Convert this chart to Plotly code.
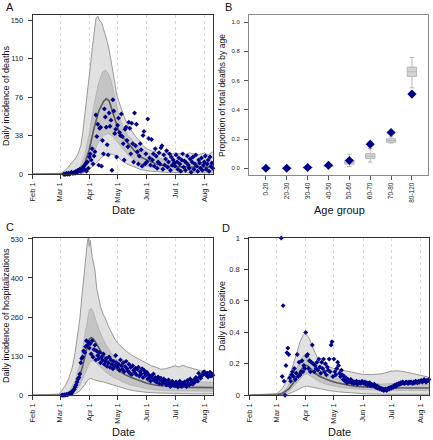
import plotly.graph_objects as go
import pandas as pd

# ---------------- data ----------------
BASE = pd.Timestamp("2020-02-01")
month_ticks = ["2020-02-01", "2020-03-01", "2020-04-01", "2020-05-01", "2020-06-01", "2020-07-01", "2020-08-01"]
month_labels = ["Feb 1", "Mar 1", "Apr 1", "May 1", "Jun 1", "Jul 1", "Aug 1"]

# Panel A: daily deaths (observed, daily from Mar 5)
deaths_start = "2020-03-05"
deaths_obs = [0, 0, 0, 1, 0, 1, 0, 1, 2, 1,
              1, 2, 1, 3, 2, 4, 3, 5, 3, 6,
              4, 8, 5, 10, 3, 12, 6,
              17, 20, 14, 25, 10, 18, 22, 58, 37, 49,
              9, 45, 46, 8, 33, 20, 64, 56, 46, 29,
              19, 60, 47, 53, 4, 73, 62, 40, 44, 17,
              48, 55, 41, 38, 59, 37, 30, 14, 44, 46,
              33, 27, 51, 45, 20, 50, 30, 12, 60, 28,
              49, 22, 10, 18, 30, 24, 8, 38, 42, 10, 20,
              12, 54, 35, 16, 9, 34, 14, 20, 8, 25,
              18, 6, 12, 21, 10, 26, 28, 5, 19, 9,
              15, 23, 7, 12, 20, 4, 17, 9, 14, 11,
              8, 19, 12, 5, 16, 10, 3, 14, 20, 7,
              13, 4, 11, 18, 9, 6, 15, 2, 12, 17,
              5, 10, 19, 8, 3, 14, 11, 6, 16, 4, 9,
              12, 18, 5, 10, 14, 3, 17, 8, 11, 6]
# model bands (day offset since Feb 1, value)
deaths_hi95_days = [0, 25, 29, 33, 37, 41, 45, 48, 51, 53, 55, 57, 59, 61, 63, 65, 67, 69, 71, 73, 75, 77, 79, 81, 83, 85, 87, 89, 91, 94, 97, 101, 105, 109, 113, 117, 121, 126, 131, 136, 141, 146, 151, 156, 161, 166, 171, 176, 182, 186, 191]
deaths_hi95 = [0, 0, 0.5, 3, 6, 11, 15, 20, 28, 40, 55, 72, 88, 105, 122, 140, 152, 155, 150, 149, 143, 138, 130, 122, 112, 100, 90, 78, 72, 64, 56, 48, 42, 37, 33, 28, 25, 23, 22, 20, 21, 19, 21, 20, 19, 21, 20, 19, 21, 19, 22]
deaths_lo95_days = [0, 50, 55, 60, 65, 70, 75, 80, 85, 90, 95, 100, 107, 115, 125, 140, 160, 191]
deaths_lo95 = [0, 0, 2, 5, 9, 14, 18, 20, 19.5, 17, 13, 10, 7.5, 4.5, 3, 2, 1.5, 1.5]
deaths_hi50_days = [0, 40, 45, 50, 55, 60, 65, 70, 74, 77, 80, 83, 86, 89, 92, 96, 101, 107, 114, 121, 131, 141, 151, 171, 191]
deaths_hi50 = [0, 1, 3, 7, 18, 40, 68, 90, 100, 102, 99, 92, 80, 66, 55, 46, 38, 32, 26, 22, 17, 14, 13, 12, 12]
deaths_lo50_days = [0, 45, 50, 55, 60, 65, 70, 75, 80, 85, 90, 96, 101, 107, 114, 121, 131, 141, 151, 191]
deaths_lo50 = [0, 0.5, 2, 5, 12, 22, 32, 38, 40, 37, 31, 24, 19, 15, 11, 8, 6, 5, 4, 3.5]
deaths_med_days = [0, 40, 45, 50, 55, 60, 65, 70, 75, 78, 81, 84, 87, 91, 96, 101, 107, 114, 121, 131, 141, 151, 166, 182, 191]
deaths_med = [0, 0.5, 1.5, 4, 10, 24, 45, 62, 71, 74, 72, 63, 53, 43, 36, 30, 24, 17, 14, 10, 8, 7.5, 7, 7, 7]

# Panel B: proportion of deaths by age
age_groups = ["0-20", "20-30", "30-40", "40-50", "50-60", "60-70", "70-80", "80-120"]
age_obs = [0.0, 0.0, 0.005, 0.02, 0.053, 0.165, 0.245, 0.507]
age_q1 = [0.0, 0.0, 0.003, 0.012, 0.028, 0.066, 0.178, 0.628]
age_med = [0.0, 0.0, 0.005, 0.016, 0.04, 0.082, 0.19, 0.66]
age_q3 = [0.001, 0.001, 0.008, 0.021, 0.055, 0.1, 0.202, 0.692]
age_lo = [0.0, 0.0, 0.001, 0.008, 0.012, 0.042, 0.172, 0.55]
age_hi = [0.002, 0.002, 0.012, 0.028, 0.096, 0.135, 0.214, 0.757]

# Panel C: daily hospitalizations (observed, daily from Mar 3)
hosp_start = "2020-03-03"
hosp_obs = [0, 1, 0, 2, 1, 3, 2, 4,
            5, 8, 6, 12, 15, 20, 28, 35, 45, 55,
            60, 72, 110, 125, 130, 150, 145, 165, 185, 170, 180,
            160, 175, 140, 185, 130, 155, 170, 120, 150, 135,
            125, 145, 110, 130, 120, 140, 105, 115, 125, 98,
            110, 130, 95, 120, 105, 90, 115, 100, 135, 110,
            95, 105, 85, 120, 100, 88, 110, 80, 98, 115,
            90, 82, 105, 75, 95, 70, 100, 85, 78, 92,
            70, 88, 95, 65, 80, 72, 90, 60, 85, 75, 68,
            78, 55, 70, 62, 48, 65, 58, 72, 50, 60,
            45, 55, 62, 40, 52, 58, 38, 48, 55, 42,
            50, 35, 45, 52, 38, 30, 42, 48, 35, 40,
            32, 45, 38, 28, 40, 48, 35, 30, 42, 38,
            45, 36, 30, 50, 42, 35, 55, 40, 48, 38,
            52, 45, 60, 55, 48, 75, 62, 58, 65, 70, 78,
            80, 72, 68, 75, 62, 70, 78, 65, 72, 68]
hosp_hi95_days = [0, 27, 30, 34, 38, 42, 45, 48, 50, 52, 54, 56, 57, 58, 59, 60, 61, 62, 63, 64, 65, 66, 67, 68, 70, 72, 75, 77, 80, 84, 88, 92, 96, 101, 106, 111, 116, 121, 126, 131, 136, 141, 146, 151, 155, 159, 163, 168, 173, 178, 182, 187, 191]
hosp_hi95 = [0, 2, 12, 30, 55, 95, 145, 210, 260, 330, 390, 450, 500, 520, 534, 505, 525, 490, 470, 455, 440, 425, 390, 360, 330, 300, 272, 262, 235, 208, 185, 170, 158, 145, 134, 125, 117, 108, 100, 95, 88, 90, 94, 100, 96, 102, 97, 92, 88, 84, 80, 78, 76]
hosp_lo95_days = [0, 40, 45, 50, 55, 58, 61, 65, 70, 75, 80, 85, 90, 96, 101, 108, 115, 121, 131, 141, 151, 171, 191]
hosp_lo95 = [0, 1, 5, 15, 35, 50, 57, 52, 48, 45, 40, 35, 30, 24, 20, 15, 12, 10, 8, 7, 6, 5, 5]
hosp_hi50_days = [0, 35, 40, 45, 50, 53, 56, 58, 60, 62, 64, 67, 70, 74, 78, 83, 88, 93, 98, 104, 110, 116, 121, 131, 141, 151, 166, 182, 191]
hosp_hi50 = [0, 6, 20, 50, 105, 160, 220, 265, 290, 295, 285, 255, 225, 195, 170, 145, 125, 110, 98, 86, 76, 68, 62, 55, 50, 48, 46, 45, 44]
hosp_lo50_days = [0, 40, 45, 50, 55, 58, 61, 64, 67, 70, 75, 80, 86, 92, 98, 104, 110, 121, 131, 141, 151, 191]
hosp_lo50 = [0, 5, 15, 35, 70, 95, 115, 118, 112, 100, 85, 72, 60, 50, 42, 35, 30, 22, 18, 16, 15, 14]
hosp_med_days = [0, 30, 35, 40, 45, 50, 53, 56, 58, 60, 62, 64, 67, 70, 74, 78, 83, 88, 93, 98, 104, 110, 116, 121, 131, 141, 151, 166, 182, 191]
hosp_med = [0, 1, 4, 12, 30, 65, 100, 140, 170, 190, 196, 192, 178, 160, 140, 122, 104, 90, 79, 70, 61, 53, 46, 41, 34, 30, 28, 27, 27, 26]

# Panel D: daily test positive fraction (observed, daily from Mar 6)
tests_start = "2020-03-06"
tests_obs = [1.0, 0.12, 0.57, 0.09, 0.0,
             0.19, 0.27, 0.30, 0.26, 0.11, 0.09, 0.13, 0.15, 0.12, 0.17,
             0.10, 0.14, 0.26, 0.12, 0.21, 0.13, 0.15, 0.22, 0.15, 0.19, 0.17,
             0.40, 0.25, 0.26, 0.17, 0.22, 0.15, 0.21, 0.32, 0.20, 0.15,
             0.19, 0.17, 0.21, 0.16, 0.23, 0.18, 0.14, 0.21, 0.17, 0.23,
             0.15, 0.20, 0.13, 0.18, 0.16, 0.23, 0.15, 0.32, 0.34, 0.12,
             0.23, 0.15, 0.13, 0.17, 0.21, 0.19, 0.14, 0.12, 0.16, 0.13,
             0.10, 0.12, 0.09, 0.11, 0.08, 0.10, 0.09, 0.085, 0.10, 0.08,
             0.09, 0.075, 0.085, 0.08, 0.09, 0.07, 0.08, 0.085, 0.075, 0.08, 0.09,
             0.08, 0.075, 0.085, 0.07, 0.08, 0.065, 0.075, 0.08, 0.06, 0.07,
             0.065, 0.06, 0.07, 0.055, 0.05, 0.06, 0.045, 0.05, 0.04, 0.045,
             0.035, 0.04, 0.03, 0.035, 0.04, 0.03, 0.035, 0.045, 0.04, 0.05,
             0.045, 0.055, 0.05, 0.06, 0.065, 0.055, 0.07, 0.065, 0.075, 0.07,
             0.08, 0.075, 0.085, 0.08, 0.075, 0.08, 0.085, 0.08, 0.075, 0.085,
             0.08, 0.085, 0.08, 0.075, 0.085, 0.08, 0.09, 0.085, 0.08, 0.09, 0.085,
             0.09, 0.095, 0.085, 0.09, 0.10, 0.09, 0.085, 0.095, 0.09, 0.10]
tests_hi95_days = [0, 26, 30, 34, 38, 42, 46, 50, 54, 57, 59, 61, 64, 67, 70, 74, 78, 83, 90, 98, 106, 114, 121, 131, 141, 151, 158, 165, 172, 180, 186, 191]
tests_hi95 = [0, 0.005, 0.015, 0.035, 0.07, 0.12, 0.18, 0.26, 0.34, 0.38, 0.392, 0.385, 0.36, 0.31, 0.27, 0.22, 0.2, 0.185, 0.17, 0.16, 0.15, 0.14, 0.133, 0.132, 0.137, 0.153, 0.156, 0.15, 0.14, 0.128, 0.12, 0.115]
tests_lo95_days = [0, 40, 46, 52, 58, 62, 68, 75, 85, 95, 106, 121, 141, 191]
tests_lo95 = [0, 0.005, 0.02, 0.04, 0.055, 0.058, 0.05, 0.04, 0.03, 0.022, 0.016, 0.01, 0.007, 0.006]
tests_hi50_days = [0, 34, 40, 46, 52, 56, 59, 62, 66, 70, 75, 80, 86, 93, 100, 110, 121, 141, 151, 166, 182, 191]
tests_hi50 = [0, 0.012, 0.045, 0.11, 0.19, 0.24, 0.26, 0.255, 0.22, 0.19, 0.16, 0.14, 0.125, 0.11, 0.095, 0.085, 0.077, 0.072, 0.075, 0.074, 0.07, 0.068]
tests_lo50_days = [0, 40, 46, 52, 56, 59, 62, 66, 70, 75, 80, 86, 93, 100, 110, 121, 141, 151, 191]
tests_lo50 = [0, 0.015, 0.05, 0.09, 0.12, 0.135, 0.135, 0.12, 0.1, 0.085, 0.073, 0.063, 0.055, 0.048, 0.042, 0.037, 0.033, 0.032, 0.03]
tests_med_days = [0, 30, 36, 42, 47, 52, 56, 59, 62, 66, 70, 75, 80, 86, 93, 100, 107, 114, 121, 131, 141, 151, 166, 182, 191]
tests_med = [0, 0.003, 0.015, 0.04, 0.08, 0.13, 0.17, 0.19, 0.188, 0.165, 0.14, 0.12, 0.105, 0.092, 0.08, 0.07, 0.063, 0.057, 0.053, 0.05, 0.048, 0.048, 0.047, 0.046, 0.046]

# ---------------- figure ----------------
FONT = "Liberation Sans, Arial, Helvetica, sans-serif"
NAVY = "#00008b"
OUTER_FILL = "rgb(224,224,224)"
INNER_FILL = "rgb(196,196,196)"


def to_dates(days):
    return [BASE + pd.Timedelta(days=x) for x in days]


def daily_dates(start, n):
    return list(pd.date_range(start, periods=n, freq="D"))


fig = go.Figure()


def add_time_panel(xa, ya, lo95, hi95, lo50, hi50, med, obs_start, obs):
    common = dict(xaxis=xa, yaxis=ya, mode="lines", showlegend=False, hoverinfo="skip")
    fig.add_trace(go.Scatter(x=to_dates(lo95[0]), y=lo95[1], line=dict(color="#8f8f8f", width=0.9), **common))
    fig.add_trace(go.Scatter(x=to_dates(hi95[0]), y=hi95[1], line=dict(color="#8f8f8f", width=0.9),
                             fill="tonexty", fillcolor=OUTER_FILL, **common))
    fig.add_trace(go.Scatter(x=to_dates(lo50[0]), y=lo50[1], line=dict(color="#aaaaaa", width=0.7), **common))
    fig.add_trace(go.Scatter(x=to_dates(hi50[0]), y=hi50[1], line=dict(color="#aaaaaa", width=0.7),
                             fill="tonexty", fillcolor=INNER_FILL, **common))
    fig.add_trace(go.Scatter(x=to_dates(med[0]), y=med[1], line=dict(color="#5a5a5a", width=1.6), **common))
    fig.add_trace(go.Scatter(x=daily_dates(obs_start, len(obs)), y=obs, xaxis=xa, yaxis=ya, mode="markers",
                             marker=dict(symbol="diamond", size=3.8, color=NAVY, line=dict(width=0)),
                             cliponaxis=False, showlegend=False))


add_time_panel("x", "y", (deaths_lo95_days, deaths_lo95), (deaths_hi95_days, deaths_hi95),
               (deaths_lo50_days, deaths_lo50), (deaths_hi50_days, deaths_hi50),
               (deaths_med_days, deaths_med), deaths_start, deaths_obs)
add_time_panel("x3", "y3", (hosp_lo95_days, hosp_lo95), (hosp_hi95_days, hosp_hi95),
               (hosp_lo50_days, hosp_lo50), (hosp_hi50_days, hosp_hi50),
               (hosp_med_days, hosp_med), hosp_start, hosp_obs)
add_time_panel("x4", "y4", (tests_lo95_days, tests_lo95), (tests_hi95_days, tests_hi95),
               (tests_lo50_days, tests_lo50), (tests_hi50_days, tests_hi50),
               (tests_med_days, tests_med), tests_start, tests_obs)

# Panel B
xpos = list(range(len(age_groups)))
fig.add_trace(go.Box(x=xpos, q1=age_q1, median=age_med, q3=age_q3, lowerfence=age_lo, upperfence=age_hi,
                     xaxis="x2", yaxis="y2", width=0.45, whiskerwidth=0.5,
                     fillcolor="#d4d4d4", line=dict(color="#b8b8b8", width=1),
                     boxpoints=False, showlegend=False))
fig.add_trace(go.Scatter(x=xpos, y=age_obs, xaxis="x2", yaxis="y2", mode="markers",
                         marker=dict(symbol="diamond", size=7, color=NAVY, line=dict(width=0)),
                         cliponaxis=False, showlegend=False))

W, H = 433, 440
def px_x(a, b):
    return [a / W, b / W]
def px_y(top, bottom):
    return [1 - bottom / H, 1 - top / H]

TICKF = dict(family=FONT, size=7.5, color="#222")
frame = dict(showline=True, mirror=True, linecolor="#333", linewidth=1, zeroline=False, automargin=False,
             ticks="outside", ticklen=4, tickcolor="#333", tickfont=TICKF)

def time_x(domain, anchor):
    return dict(domain=domain, anchor=anchor, type="date",
                range=["2020-02-01", "2020-08-10 12:00"],
                tickmode="array", tickvals=month_ticks, ticktext=month_labels, tickangle=-90,
                showgrid=True, gridcolor="#d9d9d9", griddash="dot", gridwidth=1, **frame)

def time_y(domain, anchor, rng, vals, texts):
    return dict(domain=domain, anchor=anchor, range=rng, tickmode="array", tickvals=vals,
                ticktext=texts, showgrid=False, ticklabelstandoff=3, **frame)

LX = px_x(32.7, 213.3)
RX = px_x(249.3, 429.3)
TOPY = px_y(15.3, 174.3)
BOTY = px_y(237.7, 395.3)

fig.update_layout(
    width=W, height=H, autosize=False,
    margin=dict(l=0, r=0, t=0, b=0, autoexpand=False),
    paper_bgcolor="white", plot_bgcolor="white",
    font=dict(family=FONT, color="#111"),
    xaxis=time_x(LX, "y"),
    yaxis=time_y(TOPY, "x", [0, 155.6], [0, 37.75, 75.5, 113.25, 151], ["0", "38", "76", "110", "150"]),
    xaxis3=time_x(LX, "y3"),
    yaxis3=time_y(BOTY, "x3", [0, 534], [0, 132.5, 265, 397.5, 530], ["0", "130", "260", "400", "530"]),
    xaxis4=time_x(RX, "y4"),
    yaxis4=time_y(BOTY, "x4", [0, 1.002], [0, 0.2, 0.4, 0.6, 0.8, 1.0], ["0", "0.2", "0.4", "0.6", "0.8", "1"]),
    xaxis2=dict(domain=px_x(249.0, 428.0), anchor="y2", range=[-0.81, 7.77], tickmode="array",
                tickvals=xpos, ticktext=age_groups, tickangle=-90, showgrid=False, automargin=False,
                showline=True, mirror=True, linecolor="#8a8a8a", linewidth=1, zeroline=False,
                ticks="outside", ticklen=4, tickcolor="#555", tickfont=dict(family=FONT, size=6.5, color="#222")),
    yaxis2=dict(domain=px_y(15.0, 175.0), anchor="x2", range=[-0.046, 1.048], tickmode="array",
                tickvals=[0, 0.2, 0.4, 0.6, 0.8, 1.0], ticktext=["0.0", "0.2", "0.4", "0.6", "0.8", "1.0"],
                showgrid=False, showline=True, mirror=True, linecolor="#8a8a8a", linewidth=1, zeroline=False,
                ticks="outside", ticklen=4, tickcolor="#555", ticklabelstandoff=3, automargin=False,
                tickfont=dict(family=FONT, size=6, color="#222")),
)

def ann(text, x, y, size, angle=0):
    fig.add_annotation(text=text, x=x / W, y=1 - y / H, xref="paper", yref="paper",
                       showarrow=False, textangle=angle, xanchor="center", yanchor="middle",
                       font=dict(family=FONT, size=size, color="#111"))

# panel letters
ann("A", 10, 7, 11)
ann("B", 228, 7, 11)
ann("C", 10, 227, 11)
ann("D", 226, 228, 11)
# axis titles
ann("Daily incidence of deaths", 6, 96, 9, -90)
ann("Date", 123, 210, 11)
ann("Proportion of total deaths by age", 222, 96, 8.5, -90)
ann("Age group", 339, 210, 11)
ann("Daily incidence of hospitalizations", 6, 316, 9, -90)
ann("Date", 123, 432, 11)
ann("Daily test positive", 222, 316, 9, -90)
ann("Date", 339, 432, 11)

fig.write_html("out.html", config={"displayModeBar": False},
               post_script="document.body.style.margin='0px';document.body.style.padding='0px';"
                           "document.documentElement.style.overflow='hidden';")
